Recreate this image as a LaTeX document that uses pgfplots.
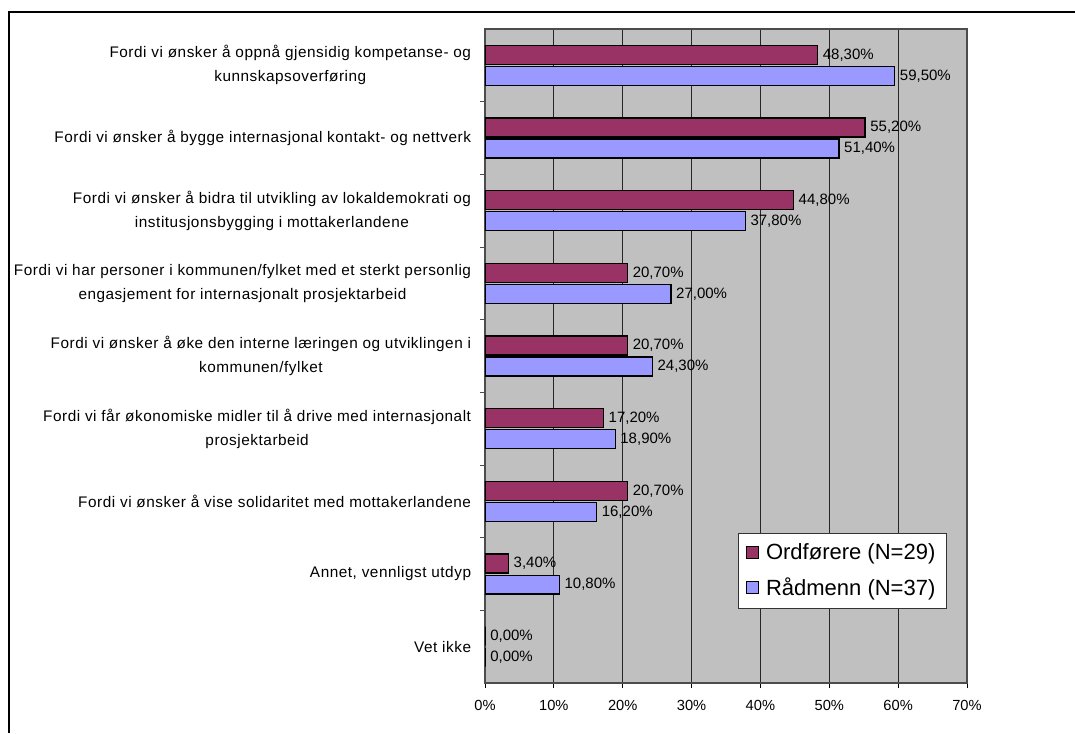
\documentclass[border=0pt]{standalone}
\usepackage{pgfplots}
\pgfplotsset{compat=1.18}
\usepackage{fontspec}
\setmainfont{Liberation Sans}
\newfontfamily\catfont{Liberation Sans}[LetterSpace=3.5]

\definecolor{ordf}{HTML}{993366}
\definecolor{radm}{HTML}{9999FF}
\definecolor{plotbg}{HTML}{C0C0C0}

\begin{document}
\begin{tikzpicture}[x=0.75pt,y=0.75pt]
\useasboundingbox (0,0) rectangle (1075,733);
\fill[white] (0,0) rectangle (1075,733);
\draw[line width=1.5pt] (8.5,0) -- (8.5,721) -- (1075,721);

\begin{axis}[
  at={(363.75pt,37.5pt)}, anchor=south west,
  scale only axis, width=361.5pt, height=490.5pt,
  xbar, bar width=0.26,
  xmin=0, xmax=70, ymin=-0.5, ymax=8.5, y dir=reverse,
  axis background/.style={fill=plotbg},
  axis line style={draw=black!70, line width=0.8pt},
  /pgf/number format/assume math mode=true,
  xtick={0,10,...,70},
  xtick pos=bottom, ytick pos=left,
  xticklabel={\pgfmathprintnumber{\tick}\%},
  xticklabel style={font=\fontsize{11}{12}\selectfont, yshift=-6pt},
  xmajorgrids, major x grid style={draw=black!85, line width=0.6pt},
  tick align=outside,
  major tick length=3.75pt, minor tick length=3.75pt,
  major x tick style={draw=black, line width=0.6pt},
  ytick={0,...,8},
  major y tick style={draw=none},
  minor ytick={0.5,1.5,...,7.5},
  minor y tick style={draw=black!70, line width=0.6pt},
  yticklabels={
    {Fordi vi ønsker å oppnå gjensidig kompetanse- og\\kunnskapsoverføring},
    {Fordi vi ønsker å bygge internasjonal kontakt- og nettverk},
    {Fordi vi ønsker å bidra til utvikling av lokaldemokrati og\\institusjonsbygging i mottakerlandene},
    {Fordi vi har personer i kommunen/fylket med et sterkt personlig\\engasjement for internasjonalt prosjektarbeid},
    {Fordi vi ønsker å øke den interne læringen og utviklingen i\\kommunen/fylket},
    {Fordi vi får økonomiske midler til å drive med internasjonalt\\prosjektarbeid},
    {Fordi vi ønsker å vise solidaritet med mottakerlandene},
    {Annet, vennligst utdyp},
    {Vet ikke}},
  yticklabel style={font=\catfont\fontsize{11.5}{18}\selectfont, align=center, inner sep=0pt, xshift=-6.5pt},
  nodes near coords={\pgfmathprintnumber[fixed,fixed zerofill,precision=2,use comma]{\pgfplotspointmeta}\%},
  nodes near coords align={horizontal},
  every node near coord/.append style={font=\fontsize{11.25}{12}\selectfont, inner sep=3.5pt},
  legend style={at={(0.525,0.2294)}, anchor=north west, draw=black!80, fill=white,
    font=\fontsize{16.5}{18}\selectfont, inner xsep=6pt, inner ysep=6pt, row sep=8pt,
    /tikz/every odd column/.append style={column sep=3pt}},
  legend cell align=left,
  legend image code/.code={\draw[#1, line width=0.8pt] (0pt,-4.5pt) rectangle (9pt,4.5pt);},
]
\addplot[fill=ordf, draw=black, line width=0.9pt, bar shift=-0.145]
  coordinates {(48.3,0) (55.2,1) (44.8,2) (20.7,3) (20.7,4) (17.2,5) (20.7,6) (3.4,7) (0,8)};
\addplot[fill=radm, draw=black, line width=0.9pt, bar shift=0.145]
  coordinates {(59.5,0) (51.4,1) (37.8,2) (27.0,3) (24.3,4) (18.9,5) (16.2,6) (10.8,7) (0,8)};
\legend{Ordførere (N=29), Rådmenn (N=37)}
\end{axis}
\end{tikzpicture}
\end{document}
